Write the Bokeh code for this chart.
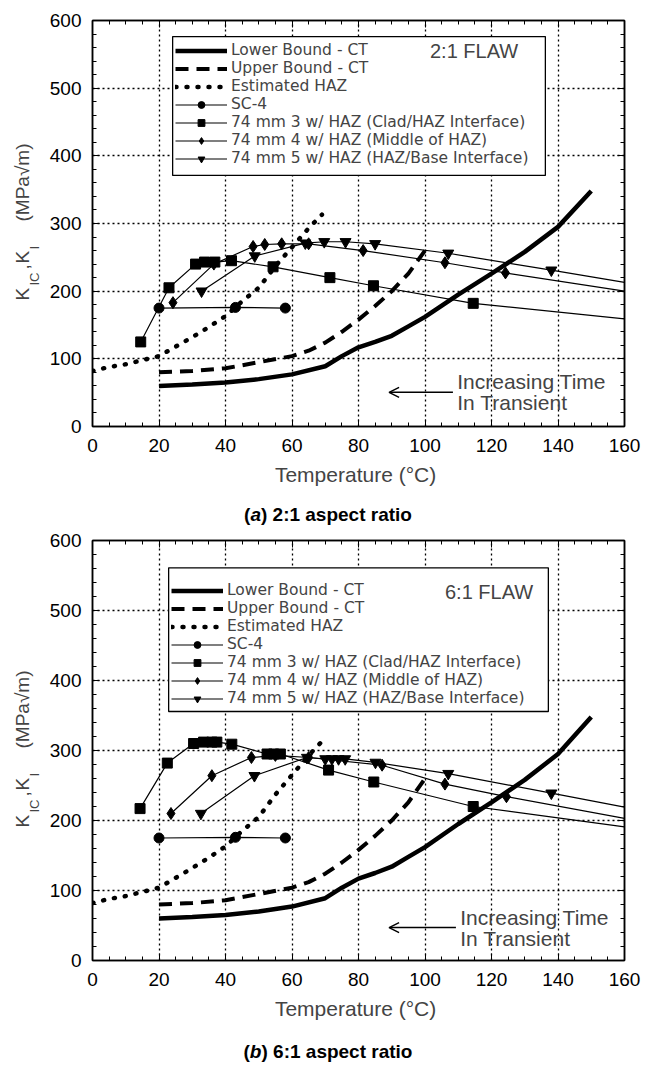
import numpy as np
from bokeh.plotting import figure
from bokeh.models import (Legend, LegendItem, Label, LinearAxis, Div,
                          SingleIntervalTicker, Range1d, CustomJSTickFormatter,
                          Arrow, OpenHead, BoxAnnotation)
from bokeh.layouts import column, row
from bokeh.embed import file_html
from bokeh.resources import INLINE

FONT = "Liberation Sans"
LEG_FONT = "DejaVu Sans"

# ---------------- data (temperature in C, K in MPa sqrt(m)) ----------------
# CT bounds and estimated HAZ curve (same in both panels)
lb_T = [20, 30, 40, 50, 60, 70, 75, 80, 85, 90, 95, 100, 110, 120, 130, 140, 150]
lb_K = [60, 62, 65, 70, 77, 89, 104, 117, 125, 134, 148, 162, 195, 226, 258, 295, 348]
ub_T = [20, 30, 40, 50, 60, 65, 70, 75, 80, 85, 90, 95, 100]
ub_K = [80, 82, 86, 95, 104, 112, 124, 140, 158, 178, 200, 226, 260]
haz_T = [0, 5, 10, 15, 20, 25, 30, 35, 40, 45, 50, 55, 60, 65, 69]
haz_K = [82, 88, 92, 98, 104, 118, 132, 147, 163, 185, 205, 237, 265, 293, 313]
sc4_T = [20, 43, 58]
sc4_K = [175, 176, 175]

# 2:1 flaw (last value of each list is the line end at 160 C, no marker)
a_sq_T = [14.5, 23, 31, 33.7, 36.8, 41.8, 54.3, 71.4, 84.5, 114.5, 160]
a_sq_K = [125, 205, 240, 243, 243, 245, 236, 220, 208, 182, 159]
a_di_T = [24.2, 36.5, 48.3, 51.8, 56.9, 65, 81.4, 106, 124.2, 160]
a_di_K = [183, 240, 266, 269, 270, 270, 260, 242, 227, 200]
a_tr_T = [32.8, 48.8, 64, 69.7, 76.1, 85, 107, 138, 160]
a_tr_K = [200, 252, 271, 273, 273, 270, 256, 231, 213]

# 6:1 flaw
b_sq_T = [14.3, 22.5, 30.4, 33.4, 35.9, 37.4, 41.9, 52.5, 54.5, 56.5, 71, 84.6, 114.5, 160]
b_sq_K = [217, 282, 310, 312, 312, 312, 309, 295, 295, 295, 272, 255, 220, 191]
b_di_T = [23.6, 35.9, 47.8, 55, 65, 87.1, 106, 124.5, 160]
b_di_K = [210, 264, 290, 293, 290, 279, 252, 234, 203]
b_tr_T = [32.6, 48.7, 64.5, 70, 72, 74, 76, 85.1, 107, 138, 160]
b_tr_K = [210, 264, 290, 288, 288, 288, 288, 283, 267, 239, 219]

x_ticks_interval = 20
y_ticks_interval = 100

legend_labels = ["Lower Bound - CT", "Upper Bound - CT", "Estimated HAZ", "SC-4",
                 "74 mm 3 w/ HAZ (Clad/HAZ Interface)",
                 "74 mm 4 w/ HAZ (Middle of HAZ)",
                 "74 mm 5 w/ HAZ (HAZ/Base Interface)"]

YL_W = 44          # width of the strip holding the y-axis title
LEFT_B = 48        # border between strip and plot frame


def make_ylabel(frame_h, top_b, bottom_b):
    q = figure(frame_width=YL_W, frame_height=frame_h,
               x_range=Range1d(0, YL_W), y_range=Range1d(0, 600),
               output_backend="svg", toolbar_location=None, tools="",
               x_axis_location=None, y_axis_location=None,
               min_border_left=0, min_border_right=0,
               min_border_top=top_b, min_border_bottom=bottom_b)
    q.outline_line_color = None
    q.grid.visible = False
    ppu = frame_h / 600.0
    pieces = [("K", "19px", 21.7, 77), ("IC", "13px", 33.5, 62),
              (",", "19px", 21.7, 46), ("K", "19px", 21.7, 40),
              ("I", "13px", 33.5, 26), ("(MPa\u221am)", "19px", 21.7, -2)]
    for txt, fs, xd, off in pieces:
        q.add_layout(Label(x=xd, y=300 - off / ppu, text=txt, angle=np.pi / 2,
                           text_font=FONT, text_font_size=fs,
                           text_align="left", text_baseline="middle"))
    return q


def make_panel(sq_T, sq_K, di_T, di_K, tr_T, tr_K, flaw_text,
               frame_h, top_b, bottom_b, legend_loc, box, flaw_xy, note_xy, arrow_y):
    p = figure(frame_width=532, frame_height=frame_h,
               x_range=Range1d(0, 160), y_range=Range1d(0, 600),
               output_backend="svg", toolbar_location=None, tools="",
               min_border_left=LEFT_B, min_border_right=25,
               min_border_top=top_b, min_border_bottom=bottom_b)
    p.background_fill_color = "white"
    p.outline_line_color = "black"
    p.outline_line_width = 1.5

    xt = SingleIntervalTicker(interval=x_ticks_interval, num_minor_ticks=4)
    yt = SingleIntervalTicker(interval=y_ticks_interval, num_minor_ticks=5)
    p.xaxis.ticker = xt
    p.yaxis.ticker = yt
    p.xgrid.ticker = xt
    p.ygrid.ticker = yt
    p.grid.grid_line_color = "black"
    p.grid.grid_line_dash = "2 3"
    p.grid.grid_line_width = 1.3

    for ax in (p.xaxis[0], p.yaxis[0]):
        ax.major_tick_in = 7
        ax.major_tick_out = 0
        ax.minor_tick_in = 4
        ax.minor_tick_out = 0
        ax.axis_line_color = "black"
        ax.axis_line_width = 1.5
        ax.major_tick_line_color = "black"
        ax.minor_tick_line_color = "black"
        ax.major_label_text_font = FONT
        ax.major_label_text_font_size = "19px"
        ax.major_label_text_color = "black"
    p.xaxis.major_label_standoff = 12
    p.yaxis.major_label_standoff = 11
    p.xaxis.axis_label = "Temperature  (\u00b0C)"
    p.xaxis.axis_label_text_font = FONT
    p.xaxis.axis_label_text_font_size = "21px"
    p.xaxis.axis_label_text_font_style = "normal"
    p.xaxis.axis_label_standoff = 8

    blank = "return ''"
    top = LinearAxis(ticker=xt, formatter=CustomJSTickFormatter(code=blank),
                     major_tick_in=7, major_tick_out=0, minor_tick_in=4, minor_tick_out=0,
                     major_label_standoff=0, major_label_text_font_size="0px",
                     axis_line_width=1.5)
    right = LinearAxis(ticker=yt, formatter=CustomJSTickFormatter(code=blank),
                       major_tick_in=7, major_tick_out=0, minor_tick_in=4, minor_tick_out=0,
                       major_label_standoff=0, major_label_text_font_size="0px",
                       axis_line_width=1.5)
    p.add_layout(top, "above")
    p.add_layout(right, "right")

    # curves
    r_lb = p.line(lb_T, lb_K, line_color="black", line_width=4.5)
    r_ub = p.line(ub_T, ub_K, line_color="black", line_width=4, line_dash="13 8")
    r_haz = p.line(haz_T, haz_K, line_color="black", line_width=4.5,
                   line_dash="1 10", line_cap="round")
    r_sc_l = p.line(sc4_T, sc4_K, line_color="black", line_width=1.2)
    r_sc_m = p.scatter(sc4_T, sc4_K, marker="circle", size=10, color="black")
    r_sq_l = p.line(sq_T, sq_K, line_color="black", line_width=1.2)
    r_sq_m = p.scatter(sq_T[:-1], sq_K[:-1], marker="square", size=10, color="black")
    r_di_l = p.line(di_T, di_K, line_color="black", line_width=1.2)
    r_di_m = p.scatter(di_T[:-1], di_K[:-1], marker="diamond", size=12, color="black")
    r_tr_l = p.line(tr_T, tr_K, line_color="black", line_width=1.2)
    r_tr_m = p.scatter(tr_T[:-1], tr_K[:-1], marker="inverted_triangle", size=11, color="black")

    # legend frame (white box with black border), legend itself transparent
    p.add_layout(BoxAnnotation(left=box[0], right=box[1], top=box[2], bottom=box[3],
                               fill_color="white", fill_alpha=1.0,
                               line_color="black", line_alpha=1.0, line_width=1.3))

    rends = [[r_lb], [r_ub], [r_haz], [r_sc_l, r_sc_m], [r_sq_l, r_sq_m],
             [r_di_l, r_di_m], [r_tr_l, r_tr_m]]
    items = [LegendItem(label=l, renderers=r) for l, r in zip(legend_labels, rends)]
    leg = Legend(items=items, location=legend_loc, padding=7, spacing=0, margin=0,
                 glyph_width=52, glyph_height=17, label_height=17, label_standoff=4,
                 label_text_font=LEG_FONT, label_text_font_size="15.5px",
                 border_line_color=None,
                 background_fill_color="white", background_fill_alpha=0.0)
    p.add_layout(leg)

    p.add_layout(Label(x=flaw_xy[0], y=flaw_xy[1], text=flaw_text, text_font=FONT,
                       text_font_size="20px", text_baseline="middle", text_align="left"))
    p.add_layout(Label(x=note_xy[0], y=note_xy[1], text="Increasing Time", text_font=FONT,
                       text_font_size="21px", text_baseline="middle"))
    p.add_layout(Label(x=note_xy[0], y=note_xy[2], text="In Transient", text_font=FONT,
                       text_font_size="21px", text_baseline="middle"))
    p.add_layout(Arrow(end=OpenHead(size=10, line_width=1.5), line_width=1.5,
                       x_start=note_xy[0] - 1.3, y_start=arrow_y,
                       x_end=89.2, y_end=arrow_y))
    return p


def caption_div(letter, rest, height, pad_top):
    html = ('<div style="width:656px; padding-top:%dpx; line-height:20px; text-align:center; '
            'font-family:\'Liberation Sans\', Arial, sans-serif; font-size:19px; '
            'font-weight:bold; color:black; white-space:nowrap;">(<i>%s</i>) %s</div>'
            % (pad_top, letter, rest))
    return Div(text=html, width=656, height=height, margin=0,
               styles={"text-align": "center", "width": "656px"})


p1 = make_panel(a_sq_T, a_sq_K, a_di_T, a_di_K, a_tr_T, a_tr_K, "2:1 FLAW",
                406, 20, 70, (83, 259),
                (24.1, 136.2, 576.3, 371.0),
                (101.5, 555), (109.7, 66, 35.5), 50.5)
p2 = make_panel(b_sq_T, b_sq_K, b_di_T, b_di_K, b_tr_T, b_tr_K, "6:1 FLAW",
                420, 12, 70, (79, 253),
                (22.9, 137.1, 561.0, 355.7),
                (106, 527), (110.6, 61, 31), 47)
y1 = make_ylabel(406, 20, 70)
y2 = make_ylabel(420, 12, 70)

cap_a = caption_div("a", "2:1 aspect ratio", 32, 9)
cap_b = caption_div("b", "6:1 aspect ratio", 34, 12)

layout = column(row(y1, p1), cap_a, row(y2, p2), cap_b)
open("out.html", "w").write(file_html(layout, INLINE))
